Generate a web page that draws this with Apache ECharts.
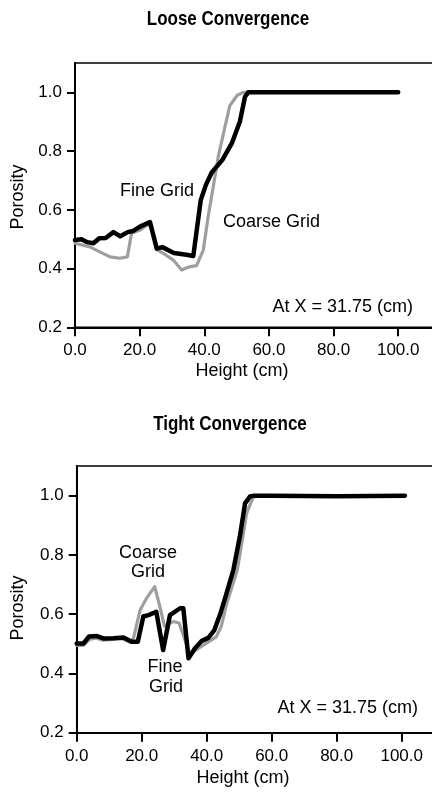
<!DOCTYPE html>
<html>
<head>
<meta charset="utf-8">
<style>
  html, body { margin: 0; padding: 0; background: #fff; }
  #chart { width: 432px; height: 794px; }
</style>
<script src="https://cdn.jsdelivr.net/npm/echarts@6/dist/echarts.min.js"></script>
</head>
<body>
<div id="chart"></div>
<script>
// ---- Data ----
var xTicks = [0, 20, 40, 60, 80, 100];
var yTicks = [0.2, 0.4, 0.6, 0.8, 1.0];

// Loose Convergence
var looseFineX = [0, 2, 3.8, 5.7, 7.5, 9.5, 11.9, 14, 16.3, 18, 20.1, 23.2, 25.3, 27, 30.6, 34.5, 36.6, 38.9, 40.5, 42.3, 45.6, 48.5, 51, 52.6, 53.6, 60, 80, 100];
var looseFineY = [0.497, 0.5, 0.49, 0.486, 0.503, 0.504, 0.524, 0.51, 0.524, 0.528, 0.543, 0.558, 0.468, 0.473, 0.453, 0.447, 0.443, 0.633, 0.685, 0.727, 0.77, 0.826, 0.9, 0.985, 1.0, 1.0, 1.0, 1.0];
var looseCoarseX = [0, 4.6, 7.7, 10.8, 13.9, 16.2, 17.5, 20.1, 22.7, 23.5, 25.3, 27.3, 30.4, 33, 35, 37.6, 39.7, 41.2, 42.8, 44.3, 46.4, 47.9, 50.2, 52, 60, 80, 100];
var looseCoarseY = [0.486, 0.474, 0.457, 0.44, 0.435, 0.44, 0.52, 0.531, 0.552, 0.54, 0.465, 0.452, 0.429, 0.395, 0.405, 0.41, 0.463, 0.577, 0.68, 0.78, 0.883, 0.955, 0.99, 1.0, 1.0, 1.0, 1.0];

// Tight Convergence
var tightFineX = [0, 2.1, 3.8, 6.2, 8.2, 11.3, 14.4, 16.9, 18.8, 20.5, 22.1, 24.5, 26.6, 28.7, 31.8, 32.8, 34.4, 36.4, 38.5, 40.5, 42.3, 44.3, 45.8, 48.2, 50.2, 51.8, 53.3, 54.6, 60, 80, 101];
var tightFineY = [0.501, 0.501, 0.525, 0.526, 0.518, 0.519, 0.521, 0.507, 0.507, 0.592, 0.597, 0.608, 0.479, 0.597, 0.62, 0.62, 0.451, 0.485, 0.51, 0.52, 0.545, 0.605, 0.659, 0.749, 0.862, 0.974, 0.997, 1.0, 1.0, 0.998, 1.0];
var tightCoarseX = [0, 2, 4, 6, 8, 11, 14, 16.5, 17.5, 19.5, 21.5, 24, 25.6, 27, 29.8, 31.5, 34.8, 38.9, 43, 44.5, 46.2, 49.4, 50.8, 52.3, 54.3, 56, 60, 80, 101];
var tightCoarseY = [0.495, 0.495, 0.515, 0.52, 0.512, 0.515, 0.517, 0.505, 0.52, 0.614, 0.654, 0.693, 0.625, 0.56, 0.575, 0.57, 0.466, 0.495, 0.524, 0.56, 0.637, 0.749, 0.839, 0.941, 0.995, 1.0, 1.0, 1.0, 1.0];

function pairs(xs, ys) { return xs.map(function (x, i) { return [x, ys[i]]; }); }

var FONT = '"Liberation Sans", Arial, Helvetica, sans-serif';

function makeX(gi) {
  return {
    type: 'value', gridIndex: gi, min: 0, max: 112,
    splitLine: { show: false },
    axisLine: { show: true, onZero: false, lineStyle: { color: '#000', width: 2 } },
    axisTick: { show: true, length: 9, customValues: xTicks, lineStyle: { color: '#000', width: 2 } },
    axisLabel: { customValues: xTicks, margin: 15, color: '#000', fontSize: 17, fontFamily: FONT,
      formatter: function (v) { return v.toFixed(1); } }
  };
}
function makeY(gi) {
  return {
    type: 'value', gridIndex: gi, min: 0.2, max: 1.1,
    splitLine: { show: false },
    axisLine: { show: true, onZero: false, lineStyle: { color: '#000', width: 2 } },
    axisTick: { show: true, length: 8, customValues: yTicks, lineStyle: { color: '#000', width: 2 } },
    axisLabel: { customValues: yTicks, margin: 13, color: '#000', fontSize: 17, fontFamily: FONT,
      formatter: function (v) { return v.toFixed(1); } }
  };
}
function fineSeries(gi, data) {
  return { type: 'line', xAxisIndex: gi, yAxisIndex: gi, data: data, symbol: 'none', z: 3,
    lineStyle: { color: '#000', width: 4.5, cap: 'round', join: 'round' }, animation: false };
}
function coarseSeries(gi, data) {
  return { type: 'line', xAxisIndex: gi, yAxisIndex: gi, data: data, symbol: 'none', z: 2,
    lineStyle: { color: '#9e9e9e', width: 3.2, cap: 'round', join: 'round' }, animation: false };
}
function txt(x, y, s, opts) {
  opts = opts || {};
  var align = opts.align || 'left';
  return { type: 'text', x: x, y: y, rotation: opts.rotation || 0, scaleY: opts.scaleY || 1, z: 10,
    style: { text: s, font: (opts.bold ? 'bold ' : '') + (opts.size || 18) + 'px ' + FONT, fill: '#000',
      align: align, verticalAlign: 'middle', textAlign: align, textVerticalAlign: 'middle' } };
}

var chart = echarts.init(document.getElementById('chart'), null, { renderer: 'canvas' });
chart.setOption({
  backgroundColor: '#fff',
  animation: false,
  grid: [
    { left: 75, top: 63, width: 362, height: 264.3, show: true, borderColor: '#000', borderWidth: 1.5,
      backgroundColor: 'transparent', containLabel: false, outerBoundsMode: 'none' },
    { left: 76.7, top: 466, width: 364, height: 266.7, show: true, borderColor: '#000', borderWidth: 1.5,
      backgroundColor: 'transparent', containLabel: false, outerBoundsMode: 'none' }
  ],
  xAxis: [makeX(0), makeX(1)],
  yAxis: [makeY(0), makeY(1)],
  series: [
    coarseSeries(0, pairs(looseCoarseX, looseCoarseY)),
    fineSeries(0, pairs(looseFineX, looseFineY)),
    coarseSeries(1, pairs(tightCoarseX, tightCoarseY)),
    fineSeries(1, pairs(tightFineX, tightFineY))
  ],
  graphic: [
    txt(228, 19, 'Loose Convergence', { align: 'center', bold: true, size: 17, scaleY: 1.2 }),
    txt(230, 424, 'Tight Convergence', { align: 'center', bold: true, size: 17, scaleY: 1.2 }),
    txt(18, 197, 'Porosity', { align: 'center', rotation: Math.PI / 2 }),
    txt(18, 608, 'Porosity', { align: 'center', rotation: Math.PI / 2 }),
    txt(242, 371, 'Height (cm)', { align: 'center' }),
    txt(243, 778, 'Height (cm)', { align: 'center' }),
    txt(120, 191, 'Fine Grid'),
    txt(223, 222, 'Coarse Grid'),
    txt(413, 307, 'At X = 31.75 (cm)', { align: 'right' }),
    txt(148, 553, 'Coarse', { align: 'center' }),
    txt(148, 572, 'Grid', { align: 'center' }),
    txt(165, 667, 'Fine', { align: 'center' }),
    txt(166, 687, 'Grid', { align: 'center' }),
    txt(418, 708, 'At X = 31.75 (cm)', { align: 'right' })
  ]
});
</script>
</body>
</html>
